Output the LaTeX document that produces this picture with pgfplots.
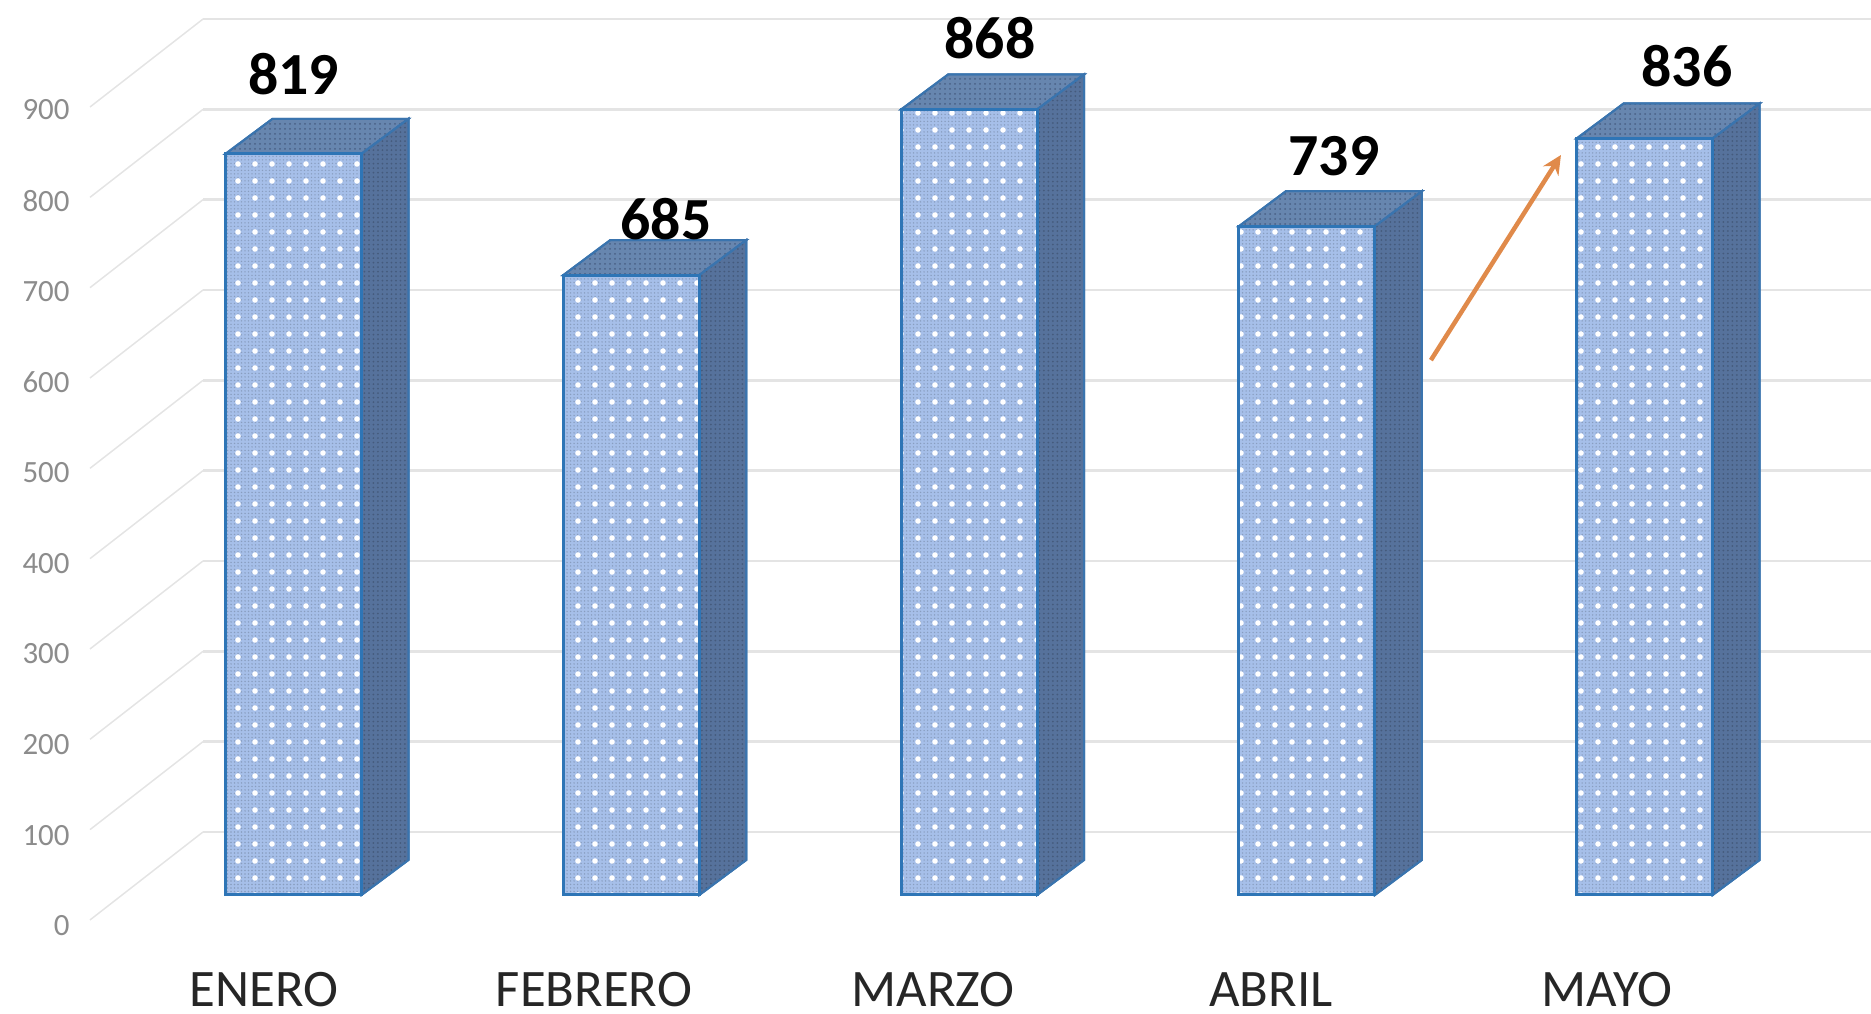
\documentclass[border=0pt]{standalone}
\usepackage{fontspec}
\setmainfont{Carlito}
\usepackage{pgfplots}
\pgfplotsset{compat=1.18}
\usetikzlibrary{patterns.meta,arrows.meta}
\definecolor{gridc}{HTML}{E4E4E4}
\definecolor{tickc}{HTML}{8C8C8C}
\definecolor{frontc}{HTML}{A6BFE9}
\definecolor{sidec}{HTML}{56729C}
\definecolor{topc}{HTML}{6786AF}
\definecolor{edgec}{HTML}{2E75B6}
\definecolor{arrowc}{HTML}{E08A4A}
\tikzset{
  frontface/.style={fill=frontc,draw=edgec,line width=0.03cm,
    postaction={pattern={Dots[distance=0.035cm,radius=0.008cm]},pattern color=frontc!82!black},
    postaction={pattern={Dots[distance=0.17cm,radius=0.028cm]},pattern color=white}},
  sideface/.style={fill=sidec,draw=edgec!70!sidec,line width=0.02cm,
    postaction={pattern={Dots[distance=0.045cm,radius=0.01cm]},pattern color=sidec!80!black}},
  topface/.style={fill=topc,draw=edgec!70!sidec,line width=0.02cm,
    postaction={pattern={Dots[distance=0.05cm,radius=0.01cm]},pattern color=sidec!85!black}},
}
\begin{document}
\begin{tikzpicture}
\path[use as bounding box] (0,0) rectangle (18.71cm,10.14cm);
% background: wall grid, value labels, month labels (x in reference pixels)
\begin{axis}[
  at={(0.76cm,0cm)},anchor=south west,
  scale only axis,width=17.95cm,height=10.14cm,
  xmin=76,xmax=1871,ymin=-201.5,ymax=921.1,
  clip=false,
  axis line style={draw=none},
  major tick length=0pt,
  xtick={264,594,933,1271,1607},
  xticklabels={ENERO,FEBRERO,MARZO,ABRIL,MAYO},
  xticklabel style={anchor=base,inner sep=0pt,yshift=0.07cm,font=\fontsize{15}{16}\selectfont,text=black!85},
  ytick={-104,-3.6,96.7,197.1,297.5,397.9,498.2,598.6,698.9,799.3},
  yticklabels={0,100,200,300,400,500,600,700,800,900},
  yticklabel style={font=\fontsize{8.8}{10}\selectfont,text=tickc,xshift=0.06cm},
  /pgf/number format/assume math mode=true,
]
\pgfplotsinvokeforeach{0,100,...,900}{
  \addplot[gridc,line width=0.025cm,forget plot] coordinates {(203,#1) (1871,#1)};
  \pgfmathsetmacro\vf{#1-97.4}
  \edef\temp{\noexpand\addplot[gridc,line width=0.015cm,forget plot] coordinates {(90,\vf) (203,#1)};}
  \temp
}
\end{axis}
% bars: real values
\begin{axis}[
  at={(0cm,0cm)},anchor=south west,
  scale only axis,width=18.71cm,height=10.14cm,
  xmin=-0.8689,xmax=4.6699,ymin=-131.5,ymax=988.95,
  hide axis,clip=false,
]
% top faces
\addplot[topface] coordinates {(-0.2013,819) (-0.0622,857.7) (0.3404,857.7) (0.2013,819)} --cycle;
\addplot[topface] coordinates {(0.7987,685) (0.9378,723.7) (1.3404,723.7) (1.2013,685)} --cycle;
\addplot[topface] coordinates {(1.7987,868) (1.9378,906.7) (2.3404,906.7) (2.2013,868)} --cycle;
\addplot[topface] coordinates {(2.7987,739) (2.9378,777.7) (3.3404,777.7) (3.2013,739)} --cycle;
\addplot[topface] coordinates {(3.7987,836) (3.9378,874.7) (4.3404,874.7) (4.2013,836)} --cycle;
% side faces
\addplot[sideface] coordinates {(0.2013,0) (0.3404,38.7) (0.3404,857.7) (0.2013,819)} --cycle;
\addplot[sideface] coordinates {(1.2013,0) (1.3404,38.7) (1.3404,723.7) (1.2013,685)} --cycle;
\addplot[sideface] coordinates {(2.2013,0) (2.3404,38.7) (2.3404,906.7) (2.2013,868)} --cycle;
\addplot[sideface] coordinates {(3.2013,0) (3.3404,38.7) (3.3404,777.7) (3.2013,739)} --cycle;
\addplot[sideface] coordinates {(4.2013,0) (4.3404,38.7) (4.3404,874.7) (4.2013,836)} --cycle;
% front faces
\addplot[ybar,bar width=0.4026,bar shift=0pt,frontface] coordinates {(0,819) (1,685) (2,868) (3,739) (4,836)};
% arrow
\addplot[arrowc,line width=0.045cm,-{Stealth[length=0.19cm,width=0.18cm]}] coordinates {(3.367,591) (3.752,817.7)};
% value labels
\tikzset{vl/.style={font=\fontsize{17}{18}\selectfont\bfseries,text=black,inner sep=0pt}}
\node[vl] at (axis cs:0,907.2) {819};
\node[vl] at (axis cs:1.1027,746.4) {685};
\node[vl] at (axis cs:2.0618,946.9) {868};
\node[vl] at (axis cs:3.0802,816.6) {739};
\node[vl] at (axis cs:4.1252,916) {836};
\end{axis}
\end{tikzpicture}
\end{document}
